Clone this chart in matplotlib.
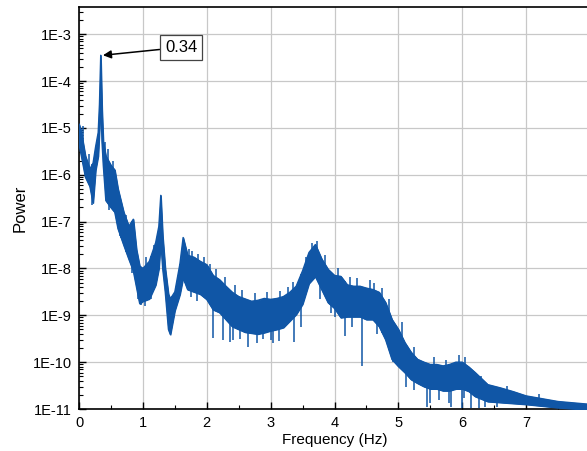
import numpy as np
import matplotlib.pyplot as plt
from matplotlib.ticker import FixedLocator, FuncFormatter, LogLocator, MultipleLocator

plt.rcParams['font.family'] = ['Liberation Sans', 'DejaVu Sans']

# spectrum band: frequency (Hz) with upper / lower log10(power) of the trace
freq = [0.00, 0.03, 0.10, 0.17, 0.22, 0.26, 0.30, 0.32, 0.34, 0.36, 0.38, 0.42,
        0.50, 0.56, 0.61, 0.70, 0.78, 0.85, 0.90, 0.95, 1.00, 1.10, 1.20, 1.25,
        1.28, 1.31, 1.35, 1.40, 1.43, 1.50, 1.58, 1.63, 1.70, 1.80, 1.90, 2.00,
        2.10, 2.20, 2.30, 2.40, 2.50, 2.60, 2.70, 2.80, 2.90, 3.00, 3.10, 3.20,
        3.30, 3.40, 3.50, 3.60, 3.70, 3.80, 3.90, 4.00, 4.10, 4.20, 4.30, 4.40,
        4.50, 4.60, 4.70, 4.80, 4.90, 5.00, 5.10, 5.20, 5.30, 5.40, 5.50, 5.60,
        5.70, 5.80, 5.90, 6.00, 6.10, 6.20, 6.40, 6.60, 6.80, 7.00, 7.50, 8.00]
upper_exp = [-4.92, -5.05, -5.60, -5.88, -5.75, -5.40, -5.10, -4.50, -3.45, -4.60, -5.30, -5.60,
             -5.80, -5.90, -6.30, -6.80, -7.10, -6.95, -7.60, -7.95, -8.00, -7.85, -7.45, -7.10,
             -6.44, -7.30, -8.00, -8.55, -8.65, -8.50, -7.90, -7.34, -7.72, -7.76, -7.85, -7.92,
             -8.15, -8.24, -8.38, -8.51, -8.60, -8.65, -8.70, -8.68, -8.64, -8.66, -8.64, -8.60,
             -8.51, -8.38, -8.05, -7.66, -7.49, -7.80, -8.02, -8.15, -8.17, -8.35, -8.38, -8.38,
             -8.42, -8.45, -8.51, -8.73, -9.09, -9.30, -9.58, -9.79, -9.94, -10.00, -10.05, -10.05,
             -10.08, -10.05, -10.00, -10.00, -10.10, -10.22, -10.48, -10.55, -10.63, -10.72, -10.84, -10.90]
lower_exp = [-5.35, -5.55, -6.05, -6.25, -6.60, -5.90, -5.60, -5.05, -4.40, -5.30, -5.80, -6.55,
             -6.70, -6.80, -7.15, -7.50, -7.80, -8.05, -8.40, -8.75, -8.70, -8.65, -8.35, -8.00,
             -7.40, -8.00, -8.50, -9.30, -9.41, -8.90, -8.55, -8.20, -8.45, -8.50, -8.55, -8.66,
             -8.88, -8.94, -9.09, -9.24, -9.30, -9.36, -9.38, -9.40, -9.37, -9.33, -9.30, -9.26,
             -9.12, -8.98, -8.76, -8.32, -8.17, -8.45, -8.73, -8.85, -9.05, -9.03, -9.03, -9.03,
             -9.09, -9.09, -9.24, -9.52, -9.94, -10.09, -10.22, -10.37, -10.45, -10.52, -10.57, -10.57,
             -10.61, -10.61, -10.57, -10.57, -10.62, -10.73, -10.84, -10.86, -10.88, -10.90, -10.97, -11.02]

# isolated dips reaching below the band
spike_freq = [0.21, 0.47, 0.64, 0.83, 0.93, 0.97, 1.04, 1.13, 1.46, 1.58, 1.75, 1.84,
              2.10, 2.25, 2.36, 2.41, 2.52, 2.64, 2.78, 2.88, 3.01, 3.03, 3.13, 3.37,
              3.48, 3.77, 3.95, 4.00, 4.16, 4.27, 4.43, 4.66, 4.91, 5.12, 5.25, 5.45,
              5.49, 5.63, 5.80, 5.83, 6.00, 6.03, 6.14, 6.27, 6.35, 6.55]
spike_exp = [-6.65, -6.75, -7.30, -8.10, -8.66, -8.77, -8.80, -8.66, -9.20, -8.51, -8.62, -8.70,
             -9.48, -9.52, -9.56, -9.52, -9.50, -9.67, -9.60, -9.50, -9.52, -9.60, -9.55, -9.56,
             -9.26, -8.66, -8.95, -9.03, -9.45, -9.25, -10.09, -9.40, -10.00, -10.52, -10.60, -10.95,
             -10.88, -10.80, -10.88, -10.95, -10.98, -10.77, -10.98, -10.98, -10.95, -10.95]

# short upward spikes along the top of the band
rise_freq = [0.06, 0.15, 0.40, 0.45, 0.53, 0.66, 0.74, 1.05, 1.17, 1.66, 1.72, 1.77,
             1.86, 1.95, 2.05, 2.15, 2.28, 2.45, 2.55, 2.75, 2.95, 3.15, 3.27, 3.35,
             3.55, 3.65, 3.72, 3.85, 4.05, 4.25, 4.35, 4.55, 4.62, 4.75, 4.85, 5.05,
             5.25, 5.55, 5.75, 5.95, 6.05, 6.30, 6.70, 7.20]
rise_exp = [-4.95, -5.55, -5.30, -5.45, -5.70, -6.55, -6.85, -7.75, -7.50, -7.50, -7.58, -7.62,
            -7.70, -7.75, -7.90, -8.02, -8.18, -8.35, -8.45, -8.52, -8.50, -8.48, -8.40, -8.28,
            -7.75, -7.45, -7.42, -7.72, -7.98, -8.18, -8.20, -8.25, -8.30, -8.42, -8.65, -9.15,
            -9.68, -9.90, -9.95, -9.85, -9.90, -10.30, -10.50, -10.68]

peak_freq = 0.34
peak_exp = -3.45

color = '#1056A6'

fig = plt.figure(figsize=(5.87, 4.51), dpi=100)
ax = fig.add_axes([0.1346, 0.0931, 0.8705, 0.8914])

f = np.array(freq)
up = 10 ** np.array(upper_exp)
lo = 10 ** np.array(lower_exp)
ax.fill_between(f, lo, up, color=color, lw=0.9, zorder=3)
ax.plot(f, up, color=color, lw=1.0, zorder=3)
ax.plot(f, lo, color=color, lw=1.0, zorder=3)

sf = np.array(spike_freq)
ax.vlines(sf, 10 ** np.array(spike_exp), 10 ** np.interp(sf, f, upper_exp),
          color=color, lw=1.1, zorder=3)
rf = np.array(rise_freq)
ax.vlines(rf, 10 ** np.interp(rf, f, lower_exp), 10 ** np.array(rise_exp),
          color=color, lw=1.1, zorder=3)

ax.set_yscale('log')
ax.set_xlim(0, 8)
ax.set_ylim(1e-11, 10 ** -2.42)

ax.xaxis.set_major_locator(MultipleLocator(1))
ax.xaxis.set_minor_locator(MultipleLocator(0.5))
ax.yaxis.set_major_locator(FixedLocator([10.0 ** k for k in range(-11, -2)]))
ax.yaxis.set_minor_locator(LogLocator(base=10, subs=np.arange(2, 10)))
ax.yaxis.set_major_formatter(FuncFormatter(lambda v, p: f"1E{int(round(np.log10(v)))}"))
ax.yaxis.set_minor_formatter(FuncFormatter(lambda v, p: ""))

ax.tick_params(which='both', direction='in', labelsize=10.5, colors='black')
ax.tick_params(which='major', length=5, width=1)
ax.tick_params(which='minor', length=3, width=0.8)
ax.tick_params(axis='y', pad=5)
ax.tick_params(axis='x', pad=5)

ax.grid(True, which='major', color='#c8c8c8', lw=0.9)
ax.set_axisbelow(True)
for side in ['left', 'bottom', 'top']:
    ax.spines[side].set_linewidth(1.2)
ax.spines['right'].set_visible(False)

ax.set_xlabel("Frequency (Hz)", fontsize=11, labelpad=2)
ax.set_ylabel("Power", fontsize=12, labelpad=4)

ax.annotate(f"{peak_freq:.2f}", xy=(0.375, 10 ** peak_exp), xytext=(1.6, 10 ** -3.28),
            fontsize=12, ha='center', va='center',
            bbox=dict(boxstyle='square,pad=0.3', fc='white', ec='#444444', lw=0.9),
            arrowprops=dict(arrowstyle='-|>', color='black', lw=1.1, mutation_scale=12,
                            shrinkA=0, shrinkB=0))

fig.savefig('out.png', dpi=100)
